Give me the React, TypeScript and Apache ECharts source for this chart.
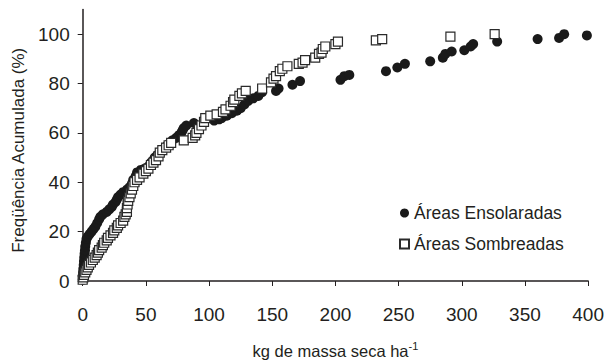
import React, { useEffect, useRef } from "react";
import * as echarts from "echarts";

const xTicks = [0, 50, 100, 150, 200, 250, 300, 350, 400];
const yTicks = [0, 20, 40, 60, 80, 100];

const ensX = [0, 0, 0.3, 0.5, 0.8, 1, 1.2, 1.5, 1.8, 2, 2.5, 3, 4, 5.5, 7, 8.5, 10, 11.5, 13, 14, 16, 19, 21, 23, 24, 26, 27, 28, 30, 32, 35, 37, 39, 40, 42, 43, 46, 49, 51, 53, 54, 56, 57, 59, 61, 63, 65, 67, 69, 71, 74, 76, 78, 79, 80, 82, 88, 104, 108, 110, 114, 118, 122, 125, 128, 131, 135, 139, 142, 153, 155, 166, 172, 204, 207, 211, 240, 249, 255, 275, 285, 287, 292, 302, 307, 309, 328, 360, 377, 381, 399];
const ensY = [0.5, 2, 3.5, 5, 6.5, 8, 9.5, 11, 12.5, 14, 15.5, 17, 18, 19, 20, 21, 22, 23.5, 25, 26, 27, 28, 29, 30, 31, 32, 33, 34, 35, 36, 37, 38, 39.5, 41, 42.5, 44, 45, 45.5, 46, 47, 48, 49, 50, 51, 52, 53, 54, 55, 56, 57, 58, 59, 60, 61, 62, 63, 64, 65, 65.5, 66, 67, 68, 69, 70, 71.5, 73, 74, 75, 76.5, 77, 78, 79.5, 81, 81.5, 83, 83.5, 85, 86.5, 88, 89, 90.5, 92, 93, 93.5, 95, 96, 97, 98, 98.5, 100, 99.5];

const sombX = [0, 0.5, 1, 2, 3, 4, 5, 6.5, 8, 9.5, 11, 12, 13, 15, 16, 17, 19, 20, 22, 24, 25, 27, 28, 30, 32, 33, 34, 35, 35, 35.5, 36, 37, 38, 39, 40, 41, 43, 45, 48, 50, 52, 54, 56, 58, 60, 61, 63, 66, 68, 70, 80, 87, 89, 90, 92, 94, 96, 97, 101, 106, 111, 113, 117, 119, 120, 124, 126, 129, 142, 149, 151, 153, 156, 158, 162, 171, 174, 176, 184, 187, 189, 190, 192, 200, 202, 232, 237, 291, 326];
const sombY = [0.5, 1.5, 2.5, 3.5, 4.5, 5.5, 6.5, 7.5, 8.5, 9.5, 10.5, 11.5, 12.5, 13.5, 14.5, 15.5, 16.5, 17.5, 18.5, 19.5, 20.5, 21.5, 22.5, 23.5, 24.5, 26, 27, 28, 29.5, 31, 32.5, 34, 35.5, 37, 38.5, 40, 41, 42, 43.5, 44.5, 45.5, 47, 48, 49, 50.5, 52, 53, 54, 55, 56, 57, 58, 59, 60, 61.5, 63, 64.5, 66, 67, 67.5, 68.5, 69.5, 71, 72.5, 73.5, 75, 76, 77, 78, 80.5, 82, 83, 85, 86, 87, 88, 88.5, 89.5, 90.5, 92, 92.5, 94, 95, 96, 97, 97.5, 98, 99, 100];

const seriesNames = ["Áreas Ensolaradas", "Áreas Sombreadas"];

const FONT = "Liberation Sans, Arial, sans-serif";
const INK = "#231f20";

export default function App() {
  const ref = useRef<HTMLDivElement>(null);
  useEffect(() => {
    if (!ref.current) return;
    const chart = echarts.init(ref.current, null, { renderer: "svg" });
    const ens = ensX.map((x, i) => [x, ensY[i]]);
    const somb = sombX.map((x, i) => [x, sombY[i]]);
    chart.setOption({
      animation: false,
      backgroundColor: "#ffffff",
      textStyle: { fontFamily: FONT },
      grid: { left: 82.7, right: 15, top: 9.5, bottom: 80.5, containLabel: false },
      legend: {
        orient: "vertical",
        left: 394,
        top: 199,
        itemWidth: 9,
        itemHeight: 9,
        itemGap: 13,
        textStyle: { fontFamily: FONT, fontSize: 17.5, color: INK },
        data: seriesNames,
      },
      xAxis: {
        type: "value",
        min: 0,
        max: 400,
        interval: 50,
        name: "{a|kg de massa seca ha}{s|-1}",
        nameLocation: "middle",
        nameGap: 59,
        nameTextStyle: {
          rich: {
            a: { fontFamily: FONT, fontSize: 16.5, color: INK },
            s: { fontFamily: FONT, fontSize: 11, color: INK, padding: [0, 0, 10, 0] },
          },
        },
        splitLine: { show: false },
        axisLine: { lineStyle: { color: INK, width: 1.5 } },
        axisTick: { show: true, length: 5, lineStyle: { color: INK, width: 1 }, customValues: xTicks },
        axisLabel: { fontFamily: FONT, fontSize: 19, color: INK, margin: 24, customValues: xTicks },
      },
      yAxis: {
        type: "value",
        min: 0,
        max: 110,
        name: "Freqüência Acumulada (%)",
        nameLocation: "middle",
        nameRotate: 90,
        nameGap: 54,
        nameTextStyle: { fontFamily: FONT, fontSize: 17, color: INK, padding: [0, 10, 0, 0] },
        splitLine: { show: false },
        axisLine: { show: true, lineStyle: { color: INK, width: 1.5 } },
        axisTick: { show: true, length: 5, lineStyle: { color: INK, width: 1 }, customValues: yTicks },
        axisLabel: { fontFamily: FONT, fontSize: 19, color: INK, margin: 13, customValues: yTicks },
      },
      series: [
        {
          name: seriesNames[0],
          type: "scatter",
          symbol: "circle",
          symbolSize: 10,
          itemStyle: { color: "#1a1a1a", opacity: 1 },
          data: ens,
        },
        {
          name: seriesNames[1],
          type: "scatter",
          symbol: "rect",
          symbolSize: 9,
          itemStyle: { color: "#ffffff", borderColor: "#2a2a2a", borderWidth: 1.2, opacity: 1 },
          data: somb,
        },
      ],
    });
    return () => chart.dispose();
  }, []);
  return (
    <div
      ref={ref}
      style={{ position: "absolute", left: 0, top: 0, width: 607, height: 364 }}
    />
  );
}
